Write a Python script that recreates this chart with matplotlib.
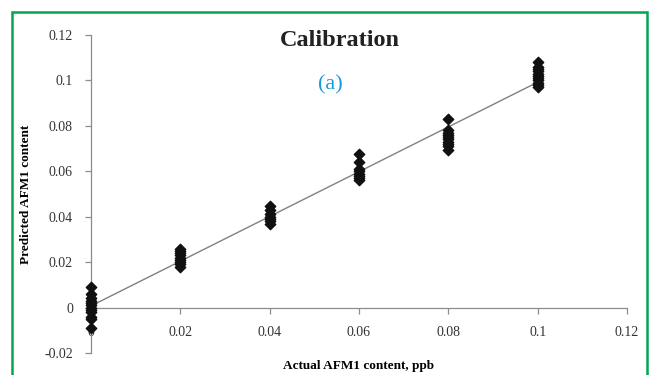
import numpy as np
import matplotlib
matplotlib.use("Agg")
import matplotlib.pyplot as plt
from matplotlib.patches import Rectangle
from matplotlib.ticker import FuncFormatter

plt.rcParams['font.family'] = ['Liberation Serif', 'DejaVu Serif']

# actual concentration levels (ppb) and predicted values at each level
levels = [0.0, 0.02, 0.04, 0.06, 0.08, 0.1]
pred_0 = [0.009, 0.006, 0.004, 0.003, 0.002, 0.001, 0.0, -0.001, -0.002, -0.004, -0.005, -0.009]
pred_02 = [0.026, 0.025, 0.024, 0.023, 0.022, 0.021, 0.020, 0.019, 0.018]
pred_04 = [0.0445, 0.043, 0.041, 0.040, 0.039, 0.038, 0.037]
pred_06 = [0.0675, 0.064, 0.061, 0.060, 0.059, 0.058, 0.057, 0.056]
pred_08 = [0.083, 0.078, 0.077, 0.076, 0.075, 0.074, 0.073, 0.072, 0.071, 0.0695]
pred_10 = [0.108, 0.106, 0.105, 0.104, 0.103, 0.102, 0.101, 0.100, 0.099, 0.098, 0.097]
groups = [pred_0, pred_02, pred_04, pred_06, pred_08, pred_10]

x_all = np.concatenate([[lv] * len(g) for lv, g in zip(levels, groups)])
y_all = np.concatenate(groups)
slope, intercept = np.polyfit(x_all, y_all, 1)

fig = plt.figure(figsize=(6.5, 3.75), dpi=100)
ax = fig.add_axes([0.14, 0.0587, 0.8246, 0.848])

xs = np.array([0.0, 0.1])
ax.plot(xs, slope * xs + intercept, color='#808080', lw=1.0, zorder=2)
ax.scatter(x_all, y_all, marker='D', s=28, color='#111111', zorder=3, clip_on=False)

ax.set_xlim(0, 0.12)
ax.set_ylim(-0.02, 0.12)
ax.set_xticks(np.arange(0, 0.121, 0.02))
ax.set_yticks(np.arange(-0.02, 0.121, 0.02))
fmt = FuncFormatter(lambda v, p: f"{round(v, 2):g}")
ax.xaxis.set_major_formatter(fmt)
ax.yaxis.set_major_formatter(fmt)

for s in ['top', 'right']:
    ax.spines[s].set_visible(False)
ax.spines['bottom'].set_position(('data', 0))
for s in ['bottom', 'left']:
    ax.spines[s].set_color('#8c8c8c')
    ax.spines[s].set_linewidth(0.9)
ax.tick_params(axis='both', colors='#8c8c8c', labelcolor='#333333', labelsize=10, length=4, width=0.9)
ax.tick_params(axis='x', pad=9)
ax.tick_params(axis='y', pad=9)

ax.set_xlabel('Actual AFM1 content, ppb', fontsize=9.5, fontweight='bold', labelpad=0)
ax.xaxis.set_label_coords(0.5, -0.022)
ax.set_ylabel('Predicted AFM1 content', fontsize=9.5, fontweight='bold')
ax.yaxis.set_label_coords(-0.11, 0.5)

fig.text(0.523, 0.893, 'Calibration', ha='center', va='center', fontsize=17.5, fontweight='bold', color='#222222')
fig.text(0.508, 0.773, '(a)', ha='center', va='center', fontsize=16, color='#1a9ad6')

fig.patches.append(Rectangle((12 / 650, -0.01), 635 / 650, 1 - 12 / 375 + 0.01, transform=fig.transFigure,
                             fill=False, edgecolor='#00a651', lw=1.8))

fig.savefig('out.png', dpi=100)
